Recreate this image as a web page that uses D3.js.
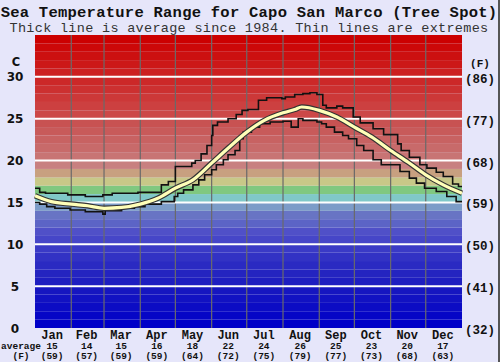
<!DOCTYPE html>
<html>
<head>
<meta charset="utf-8">
<script src="https://cdn.jsdelivr.net/npm/d3@7"></script>
<style>
  body { margin: 0; background: #e6e6fa; }
  svg { display: block; }
  .mono { font-family: "Liberation Mono", "DejaVu Sans Mono", monospace; font-weight: bold; fill: #111; }
  .sans { font-family: "DejaVu Sans", Verdana, sans-serif; font-weight: bold; fill: #111; }
</style>
</head>
<body>
<svg id="chart"></svg>
<script>
// month data
const months = ['Jan','Feb','Mar','Apr','May','Jun','Jul','Aug','Sep','Oct','Nov','Dec'];
const monthDays = [31,28,31,30,31,30,31,31,30,31,30,31];
const monthAvgC = [15,14,15,16,18,22,24,26,25,23,20,17];
const monthAvgF = [59,57,59,59,64,72,75,79,77,73,68,63];
const tickC = [0,5,10,15,20,25,30];
const tickF = [32,41,50,59,68,77,86];

// average temperature [day of year, C]
const avgLine = [[0,15.8],[14,15.1],[31,14.8],[45,14.6],[59,14.3],[74,14.4],[90,14.8],[105,15.5],
  [120,16.7],[135,17.7],[151,19.7],[166,21.6],[181,23.4],[196,24.8],[212,25.7],[222,26.1],
  [228,26.4],[243,26.0],[258,25.2],[273,24.0],[288,22.8],[304,21.2],[319,19.8],[334,18.3],
  [349,17.1],[365,16.1]];

// extremes, step start day and C
const maxSteps = [[0,16.7],[4,16.2],[9,16.1],[28,15.9],[43,15.7],[58,15.9],[66,16.1],[88,16.2],
  [108,17.1],[114,17.5],[120,19.3],[134,19.7],[137,20.0],[142,20.8],[147,21.8],[151,23.0],
  [152,24.2],[156,24.6],[165,25.0],[172,25.5],[177,26.0],[182,26.1],[191,27.2],[198,27.5],
  [211,27.4],[214,27.6],[222,27.9],[229,28.0],[235,28.1],[241,27.9],[246,26.6],[249,26.3],
  [258,26.5],[263,26.3],[272,25.2],[278,24.5],[289,23.8],[298,23.1],[310,22.0],[313,21.2],
  [320,20.4],[329,19.5],[335,19.1],[343,18.6],[349,18.1],[357,17.2],[362,16.9]];

const minSteps = [[0,15.0],[4,14.8],[10,14.5],[17,14.3],[30,14.1],[43,13.9],[58,13.6],[60,14.0],
  [74,14.3],[85,14.5],[94,14.8],[108,15.1],[119,15.7],[122,16.1],[127,16.5],[135,17.1],
  [140,17.7],[145,18.3],[151,18.9],[155,19.5],[161,20.1],[165,20.7],[171,21.2],[175,22.6],
  [178,23.4],[185,24.0],[192,24.4],[201,24.6],[212,24.7],[219,24.0],[225,25.0],[229,24.8],
  [241,24.6],[245,24.4],[249,24.0],[256,23.4],[263,23.0],[268,22.6],[275,21.8],[281,21.2],
  [289,20.1],[296,19.5],[312,18.7],[320,17.9],[326,17.3],[333,16.7],[343,16.3],[352,15.7],
  [360,15.1]];

// one colour per degree band, 0..34 C
const bandColors = ['#0000c8','#0606c6','#0c0cc4','#1212c2','#1616c0',
  '#1e1ec0','#2424c0','#2a2ac2','#3232c4','#3a3ac6',
  '#4646c8','#5050c8','#5c64c6','#6874c4','#7c9cc8',
  '#80c8c8','#80c880','#c8c888','#c8a080','#c88080',
  '#c87474','#c86a6a','#c86262','#c85a5a','#c85252',
  '#cc4848','#cc4040','#cc3838','#cc3030','#cc2828',
  '#cc2020','#cc1818','#cc1010','#cc0808','#cc0000'];

const W = 500, H = 362;
const svg = d3.select('#chart').attr('width', W).attr('height', H);

const x = d3.scaleLinear().domain([0, 365]).range([35, 462]);
const y = d3.scaleLinear().domain([0, 35]).range([328, 35]);

svg.append('rect').attr('width', W).attr('height', H).attr('fill', '#e6e6fa');

// colour bands
svg.append('g').selectAll('rect')
  .data(bandColors)
  .join('rect')
    .attr('x', x(0))
    .attr('width', x(365) - x(0))
    .attr('y', (d, i) => y(i + 1))
    .attr('height', (d, i) => y(i) - y(i + 1))
    .attr('fill', d => d);

// month boundaries
const cum = d3.cumsum(monthDays);
svg.append('g').selectAll('line')
  .data(cum.slice(0, 11))
  .join('line')
    .attr('x1', d => x(d)).attr('x2', d => x(d))
    .attr('y1', y(35)).attr('y2', y(0))
    .attr('stroke', '#6a6a6a').attr('stroke-width', 1.2);

// white temperature lines
svg.append('g').selectAll('line')
  .data(tickC.slice(1))
  .join('line')
    .attr('x1', x(0)).attr('x2', x(365))
    .attr('y1', d => y(d)).attr('y2', d => y(d))
    .attr('stroke', '#fff').attr('stroke-width', 2);

const step = d3.line().x(d => x(d[0])).y(d => y(d[1])).curve(d3.curveStepAfter);
const closeSteps = s => s.concat([[365, s[s.length - 1][1]]]);

[maxSteps, minSteps].forEach(s => {
  svg.append('path')
    .datum(closeSteps(s))
    .attr('d', step)
    .attr('fill', 'none')
    .attr('stroke', '#111')
    .attr('stroke-width', 1.6);
});

const smooth = d3.line().x(d => x(d[0])).y(d => y(d[1])).curve(d3.curveMonotoneX);
svg.append('path').datum(avgLine).attr('d', smooth)
  .attr('fill', 'none').attr('stroke', '#333').attr('stroke-width', 5.5);
svg.append('path').datum(avgLine).attr('d', smooth)
  .attr('fill', 'none').attr('stroke', '#ffffb8').attr('stroke-width', 3.2);

// titles
svg.append('text').attr('class', 'mono')
  .attr('x', 249).attr('y', 16.5).attr('text-anchor', 'middle')
  .style('font-size', '15.5px').style('letter-spacing', '0.25px')
  .text('Sea Temperature Range for Capo San Marco (Tree Spot)');
svg.append('text').attr('class', 'mono')
  .attr('x', 249).attr('y', 32).attr('text-anchor', 'middle')
  .style('font-size', '13.5px').style('font-weight', 'normal').style('fill', '#333')
  .style('letter-spacing', '0.3px')
  .text('Thick line is average since 1984. Thin lines are extremes');

// left axis
svg.append('text').attr('class', 'sans').attr('x', 16).attr('y', 66)
  .attr('text-anchor', 'middle').style('font-size', '11.5px').text('C');
svg.append('g').selectAll('text')
  .data(tickC)
  .join('text')
    .attr('class', 'sans')
    .attr('x', 15).attr('y', d => y(d) + 4.5)
    .attr('text-anchor', 'middle')
    .style('font-size', '12px')
    .text(d => d);

// right axis
svg.append('text').attr('class', 'mono').attr('x', 480).attr('y', 67)
  .attr('text-anchor', 'middle').style('font-size', '11px').text('(F)');
svg.append('g').selectAll('text')
  .data(tickF)
  .join('text')
    .attr('class', 'mono')
    .attr('x', 480).attr('y', (d, i) => y(tickC[i]) + 6)
    .attr('text-anchor', 'middle')
    .style('font-size', '12.5px')
    .text(d => '(' + d + ')');

// month labels
const mid = months.map((m, i) => (cum[i] - monthDays[i] / 2));
const labels = svg.append('g');
labels.selectAll('text.m').data(months).join('text').attr('class', 'mono m')
  .attr('x', (d, i) => x(mid[i]) - 1).attr('y', 338.5).attr('text-anchor', 'middle')
  .style('font-size', '12px').text(d => d);
labels.selectAll('text.c').data(monthAvgC).join('text').attr('class', 'mono c')
  .attr('x', (d, i) => x(mid[i]) - 1).attr('y', 349).attr('text-anchor', 'middle')
  .style('font-size', '9.5px').text(d => d);
labels.selectAll('text.f').data(monthAvgF).join('text').attr('class', 'mono f')
  .attr('x', (d, i) => x(mid[i]) - 1).attr('y', 359).attr('text-anchor', 'middle')
  .style('font-size', '9.5px').text(d => '(' + d + ')');
svg.append('text').attr('class', 'mono').attr('x', 21).attr('y', 349)
  .attr('text-anchor', 'middle').style('font-size', '9.5px').text('average');
svg.append('text').attr('class', 'mono').attr('x', 21).attr('y', 359)
  .attr('text-anchor', 'middle').style('font-size', '9.5px').text('(F)');

// frame edge
svg.append('line').attr('x1', W - 1).attr('x2', W - 1).attr('y1', 0).attr('y2', H)
  .attr('stroke', '#555').attr('stroke-width', 2);
</script>
</body>
</html>
